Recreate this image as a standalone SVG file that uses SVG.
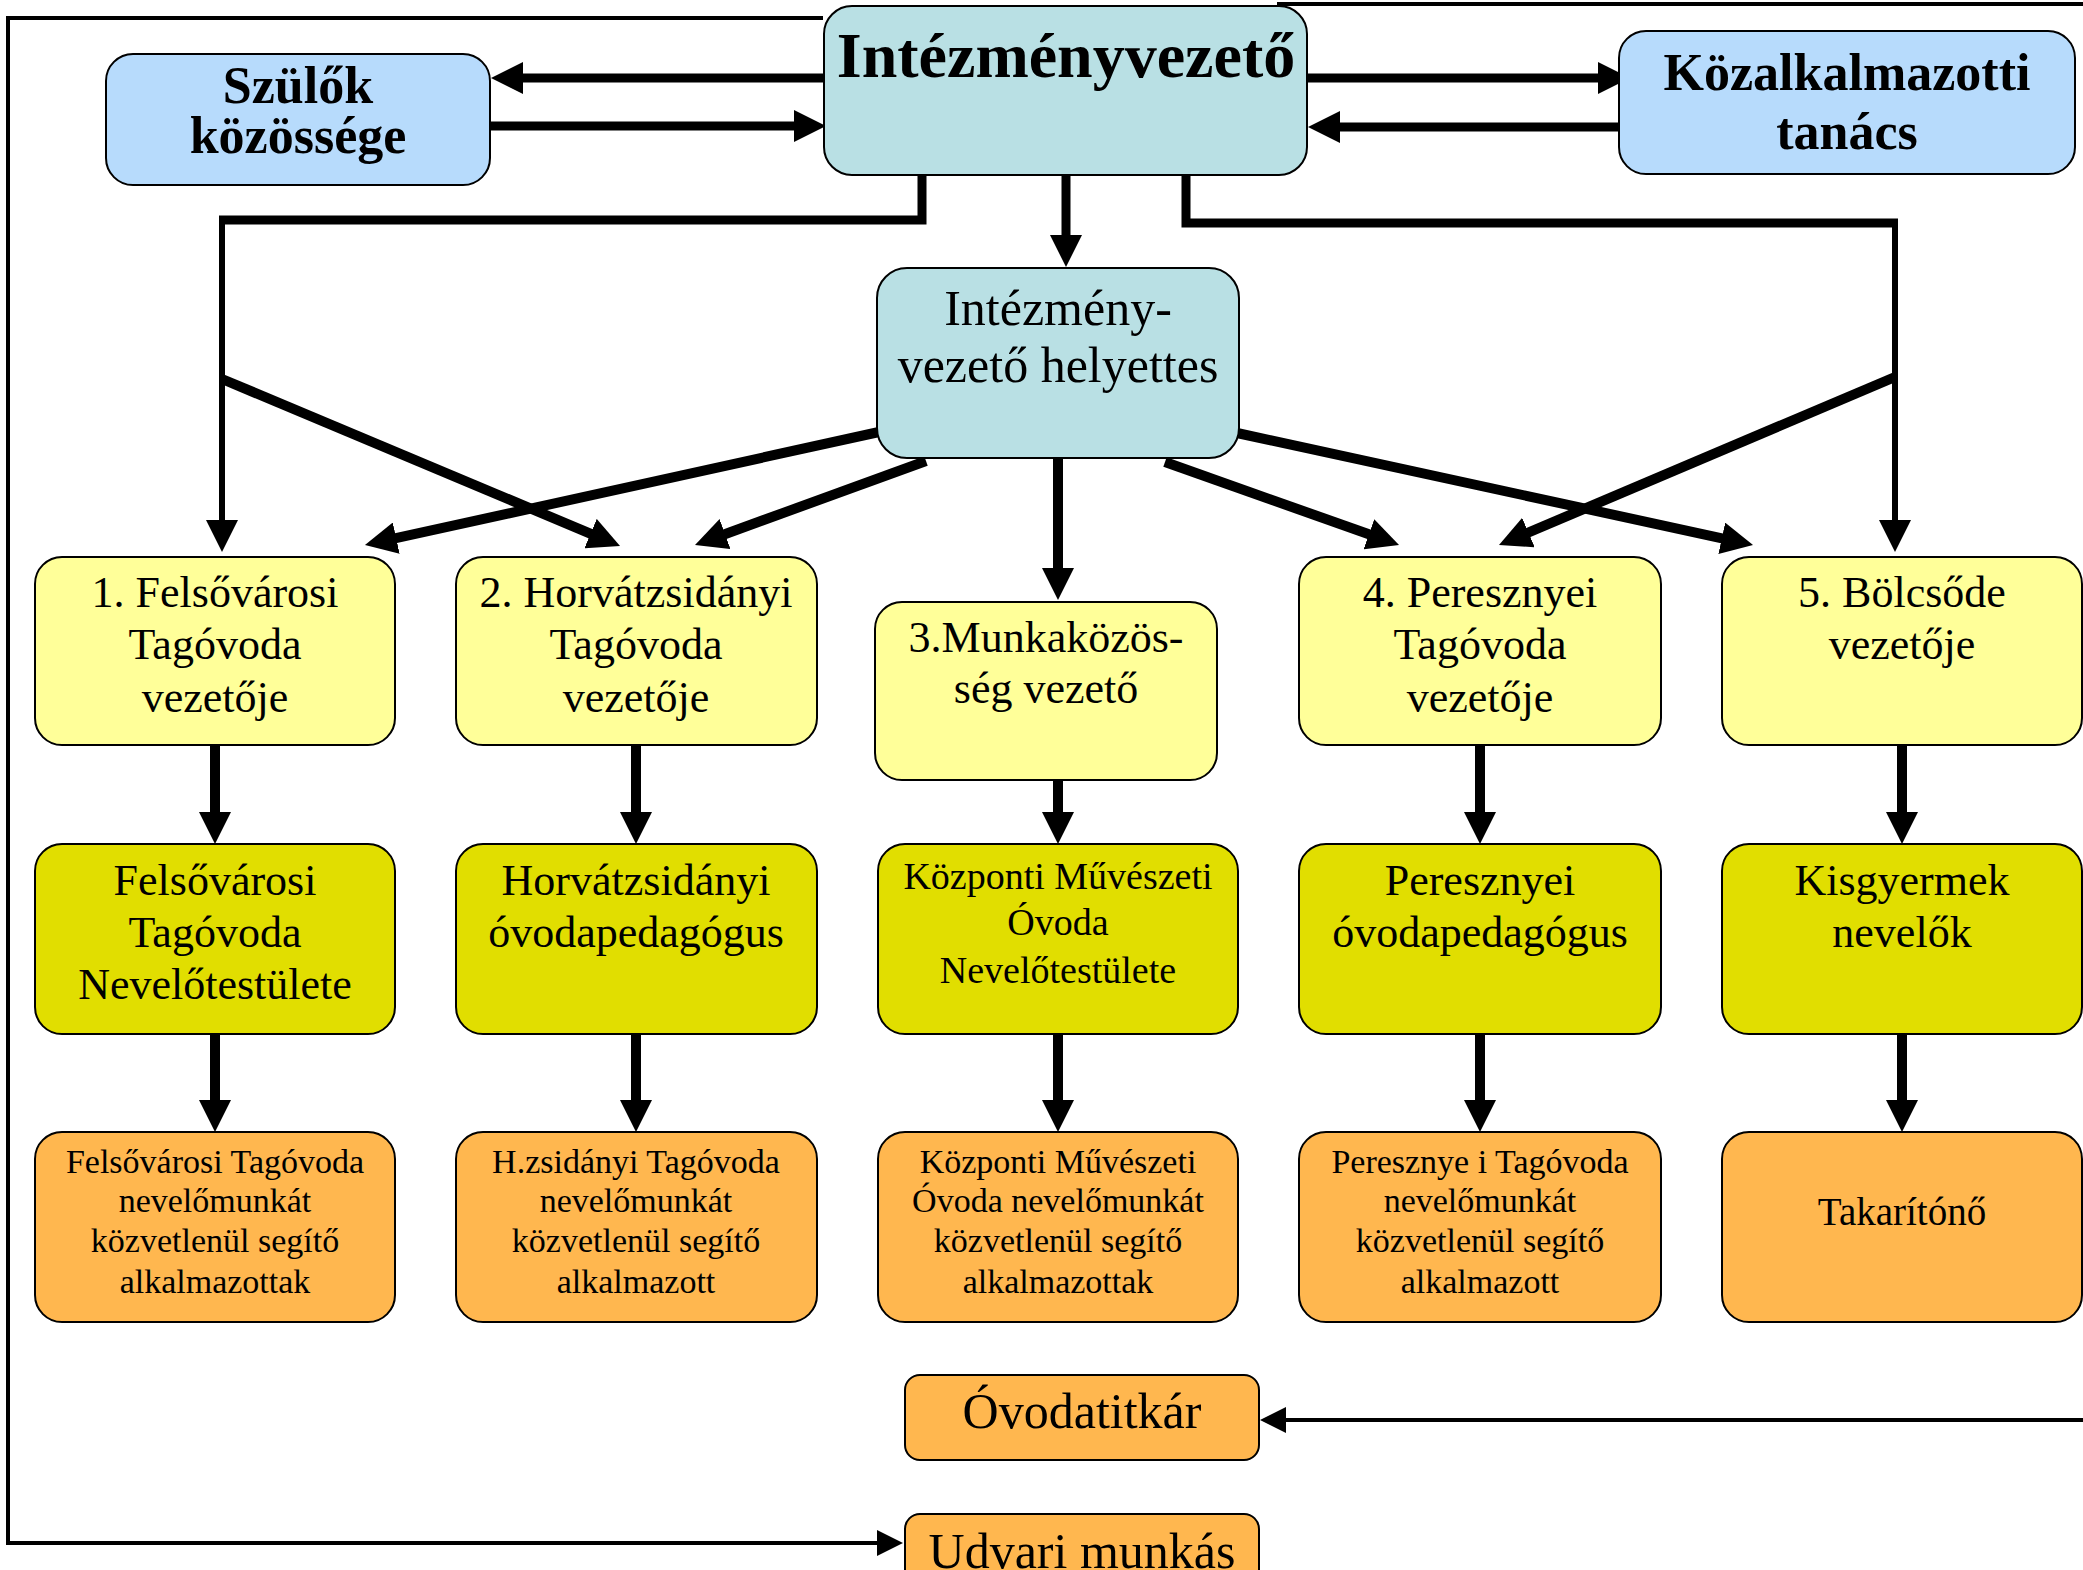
<svg xmlns="http://www.w3.org/2000/svg" width="2083" height="1570" viewBox="0 0 2083 1570">
<style>
.box{stroke:#000;stroke-width:2}
.teal{fill:#b9e0e4}
.blue{fill:#b7dbfc}
.yel{fill:#ffff99}
.olive{fill:#e1de00}
.org{fill:#ffb74f}
text{font-family:"Liberation Serif","Times New Roman",serif;fill:#000;text-anchor:middle}
.b{font-weight:bold}
.f44{font-size:44px}
.f38{font-size:38px}
.f34{font-size:34px}
.f50{font-size:50px}
.c{fill:none;stroke:#000;stroke-linecap:butt;stroke-linejoin:miter}
.w9{stroke-width:9}
.w10{stroke-width:10}
.w6{stroke-width:6}
.w4{stroke-width:4}
</style>
<defs>
<marker id="ah" markerUnits="userSpaceOnUse" markerWidth="32" markerHeight="32" viewBox="0 0 32 32" refX="12" refY="16" orient="auto">
<path d="M0,0 L32,16 L0,32 z" fill="#000"/>
</marker>
<marker id="as" markerUnits="userSpaceOnUse" markerWidth="26" markerHeight="26" viewBox="0 0 26 26" refX="8" refY="13" orient="auto">
<path d="M0,0 L26,13 L0,26 z" fill="#000"/>
</marker>
</defs>

<g id="connectors">
<path class="c w4" d="M823,18 H8 V1543 H885" marker-end="url(#as)"/>
<path class="c w4" d="M1277,4 H2083"/>
<path class="c w4" d="M2083,1420 H1278" marker-end="url(#as)"/>
<path class="c w9" d="M824,78 H511" marker-end="url(#ah)"/>
<path class="c w9" d="M490,126 H806" marker-end="url(#ah)"/>
<path class="c w9" d="M1307,78 H1610" marker-end="url(#ah)"/>
<path class="c w9" d="M1619,127 H1328" marker-end="url(#ah)"/>
<path class="c w9" d="M1066,175 V247" marker-end="url(#ah)"/>
<path class="c w9" d="M922,175 V220 H219"/>
<path class="c w6" d="M222,220 V532" marker-end="url(#ah)"/>
<path class="c w10" d="M222,379 L601.6,538.3" marker-end="url(#ah)"/>
<path class="c w9" d="M1186,175 V223 H1898"/>
<path class="c w6" d="M1895,223 V532" marker-end="url(#ah)"/>
<path class="c w10" d="M1895,377 L1517.4,537.2" marker-end="url(#ah)"/>
<path class="c w10" d="M879,432 L384.5,540.7" marker-end="url(#ah)"/>
<path class="c w10" d="M926,461 L713.8,538.2" marker-end="url(#ah)"/>
<path class="c w10" d="M1058,458 V580" marker-end="url(#ah)"/>
<path class="c w10" d="M1165,462 L1380.2,538.3" marker-end="url(#ah)"/>
<path class="c w10" d="M1237,433 L1733.5,540.8" marker-end="url(#ah)"/>
<path class="c w10" d="M215,745 V824" marker-end="url(#ah)"/>
<path class="c w10" d="M636,745 V824" marker-end="url(#ah)"/>
<path class="c w10" d="M1058,780 V824" marker-end="url(#ah)"/>
<path class="c w10" d="M1480,745 V824" marker-end="url(#ah)"/>
<path class="c w10" d="M1902,745 V824" marker-end="url(#ah)"/>
<path class="c w10" d="M215,1034 V1112" marker-end="url(#ah)"/>
<path class="c w10" d="M636,1034 V1112" marker-end="url(#ah)"/>
<path class="c w10" d="M1058,1034 V1112" marker-end="url(#ah)"/>
<path class="c w10" d="M1480,1034 V1112" marker-end="url(#ah)"/>
<path class="c w10" d="M1902,1034 V1112" marker-end="url(#ah)"/>
</g>

<g id="intezmenyvezeto">
<rect class="box teal" x="824" y="6" width="483" height="169" rx="28"/>
<text class="b" x="1066" y="77" style="font-size:64px">Intézményvezető</text>
</g>
<g id="szulok">
<rect class="box blue" x="106" y="54" width="384" height="131" rx="27"/>
<text class="b" x="298" y="103" style="font-size:52px">Szülők</text>
<text class="b" x="298" y="153" style="font-size:52px">közössége</text>
</g>
<g id="kozalkalmazotti">
<rect class="box blue" x="1619" y="31" width="456" height="143" rx="27"/>
<text class="b" x="1847" y="90" style="font-size:52px">Közalkalmazotti</text>
<text class="b" x="1847" y="149" style="font-size:52px">tanács</text>
</g>
<g id="helyettes">
<rect class="box teal" x="877" y="268" width="362" height="190" rx="30"/>
<text class="f50" x="1058" y="325">Intézmény-</text>
<text class="f50" x="1058" y="382">vezető helyettes</text>
</g>

<g id="n1">
<rect class="box yel" x="35" y="557" width="360" height="188" rx="27"/>
<text class="f44" x="215" y="607">1. Felsővárosi</text>
<text class="f44" x="215" y="659">Tagóvoda</text>
<text class="f44" x="215" y="712">vezetője</text>
</g>
<g id="n2">
<rect class="box yel" x="456" y="557" width="361" height="188" rx="27"/>
<text class="f44" x="636" y="607">2. Horvátzsidányi</text>
<text class="f44" x="636" y="659">Tagóvoda</text>
<text class="f44" x="636" y="712">vezetője</text>
</g>
<g id="n3">
<rect class="box yel" x="875" y="602" width="342" height="178" rx="27"/>
<text class="f44" x="1046" y="652">3.Munkaközös-</text>
<text class="f44" x="1046" y="703">ség vezető</text>
</g>
<g id="n4">
<rect class="box yel" x="1299" y="557" width="362" height="188" rx="27"/>
<text class="f44" x="1480" y="607">4. Peresznyei</text>
<text class="f44" x="1480" y="659">Tagóvoda</text>
<text class="f44" x="1480" y="712">vezetője</text>
</g>
<g id="n5">
<rect class="box yel" x="1722" y="557" width="360" height="188" rx="27"/>
<text class="f44" x="1902" y="607">5. Bölcsőde</text>
<text class="f44" x="1902" y="659">vezetője</text>
</g>

<g id="n1b">
<rect class="box olive" x="35" y="844" width="360" height="190" rx="27"/>
<text class="f44" x="215" y="895">Felsővárosi</text>
<text class="f44" x="215" y="947">Tagóvoda</text>
<text class="f44" x="215" y="999">Nevelőtestülete</text>
</g>
<g id="n2b">
<rect class="box olive" x="456" y="844" width="361" height="190" rx="27"/>
<text class="f44" x="636" y="895">Horvátzsidányi</text>
<text class="f44" x="636" y="947">óvodapedagógus</text>
</g>
<g id="n3b">
<rect class="box olive" x="878" y="844" width="360" height="190" rx="27"/>
<text class="f38" x="1058" y="889">Központi Művészeti</text>
<text class="f38" x="1058" y="935">Óvoda</text>
<text class="f38" x="1058" y="983">Nevelőtestülete</text>
</g>
<g id="n4b">
<rect class="box olive" x="1299" y="844" width="362" height="190" rx="27"/>
<text class="f44" x="1480" y="895">Peresznyei</text>
<text class="f44" x="1480" y="947">óvodapedagógus</text>
</g>
<g id="n5b">
<rect class="box olive" x="1722" y="844" width="360" height="190" rx="27"/>
<text class="f44" x="1902" y="895">Kisgyermek</text>
<text class="f44" x="1902" y="947">nevelők</text>
</g>

<g id="n1c">
<rect class="box org" x="35" y="1132" width="360" height="190" rx="27"/>
<text class="f34" x="215" y="1173">Felsővárosi Tagóvoda</text>
<text class="f34" x="215" y="1212">nevelőmunkát</text>
<text class="f34" x="215" y="1252">közvetlenül segítő</text>
<text class="f34" x="215" y="1293">alkalmazottak</text>
</g>
<g id="n2c">
<rect class="box org" x="456" y="1132" width="361" height="190" rx="27"/>
<text class="f34" x="636" y="1173">H.zsidányi Tagóvoda</text>
<text class="f34" x="636" y="1212">nevelőmunkát</text>
<text class="f34" x="636" y="1252">közvetlenül segítő</text>
<text class="f34" x="636" y="1293">alkalmazott</text>
</g>
<g id="n3c">
<rect class="box org" x="878" y="1132" width="360" height="190" rx="27"/>
<text class="f34" x="1058" y="1173">Központi Művészeti</text>
<text class="f34" x="1058" y="1212">Óvoda nevelőmunkát</text>
<text class="f34" x="1058" y="1252">közvetlenül segítő</text>
<text class="f34" x="1058" y="1293">alkalmazottak</text>
</g>
<g id="n4c">
<rect class="box org" x="1299" y="1132" width="362" height="190" rx="27"/>
<text class="f34" x="1480" y="1173">Peresznye i Tagóvoda</text>
<text class="f34" x="1480" y="1212">nevelőmunkát</text>
<text class="f34" x="1480" y="1252">közvetlenül segítő</text>
<text class="f34" x="1480" y="1293">alkalmazott</text>
</g>
<g id="n5c">
<rect class="box org" x="1722" y="1132" width="360" height="190" rx="27"/>
<text x="1902" y="1225" style="font-size:39px">Takarítónő</text>
</g>

<g id="ovodatitkar">
<rect class="box org" x="905" y="1375" width="354" height="85" rx="15"/>
<text class="f50" x="1082" y="1428">Óvodatitkár</text>
</g>
<g id="udvari">
<rect class="box org" x="905" y="1514" width="354" height="85" rx="15"/>
<text class="f50" x="1082" y="1568">Udvari munkás</text>
</g>
</svg>
